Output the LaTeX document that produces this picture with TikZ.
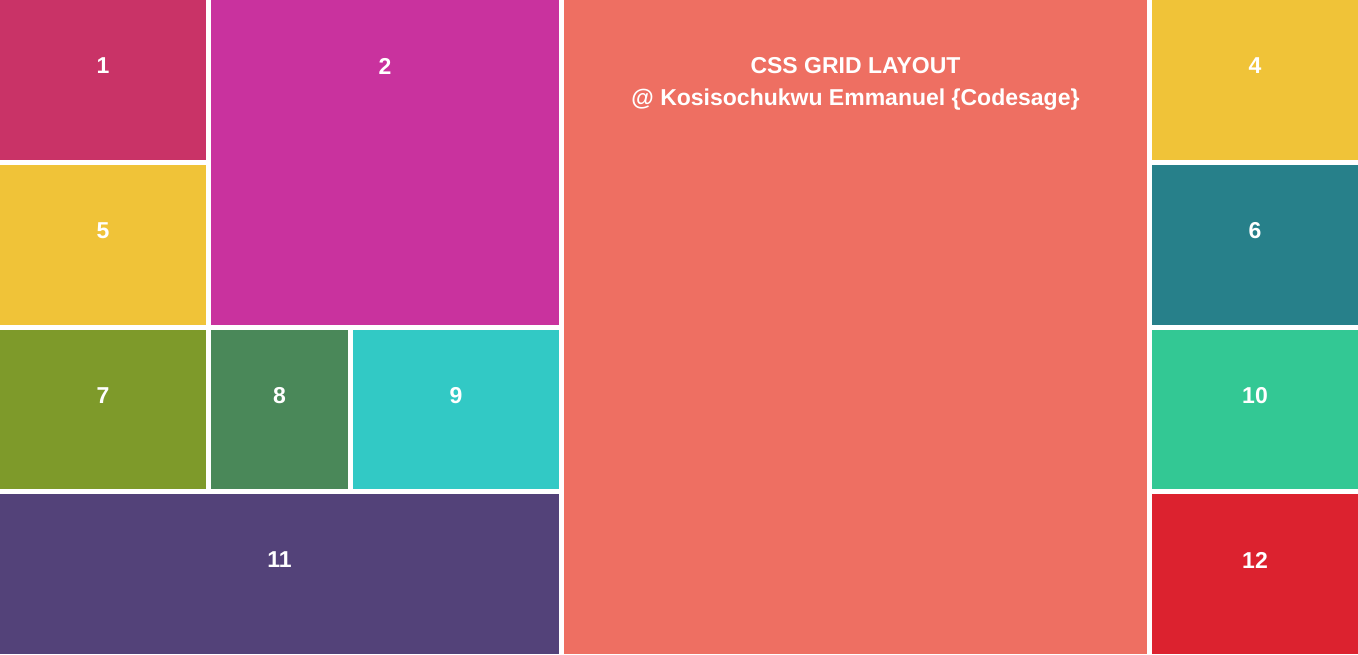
\documentclass[tikz,border=0pt]{standalone}
\usepackage{fontspec}
\setmainfont{Liberation Sans}
\definecolor{c1}{RGB}{201,51,103}
\definecolor{c2}{RGB}{201,50,158}
\definecolor{c3}{RGB}{238,111,98}
\definecolor{c4}{RGB}{240,195,56}
\definecolor{c6}{RGB}{39,128,138}
\definecolor{c7}{RGB}{126,154,42}
\definecolor{c8}{RGB}{74,136,89}
\definecolor{c9}{RGB}{50,201,197}
\definecolor{c10}{RGB}{51,200,148}
\definecolor{c11}{RGB}{83,66,121}
\definecolor{c12}{RGB}{220,34,47}
\begin{document}
\begin{tikzpicture}[x=1pt,y=-1pt,
  cell/.style={draw=none,inner sep=0pt,outer sep=0pt,anchor=north west},
  lbl/.style={text=white,font=\fontsize{23}{28}\selectfont\bfseries,inner sep=0pt,yshift=-66pt}]
\fill[white] (0,0) rectangle (1358,654);
\useasboundingbox (0,0) rectangle (1358,654);
\node[cell,fill=c1,minimum width=206pt,minimum height=160pt] (b1) at (0,0) {};
\node[cell,fill=c2,minimum width=348pt,minimum height=325pt] (b2) at (211,0) {};
\node[cell,fill=c3,minimum width=583pt,minimum height=654pt] (b3) at (564,0) {};
\node[cell,fill=c4,minimum width=206pt,minimum height=160pt] (b4) at (1152,0) {};
\node[cell,fill=c4,minimum width=206pt,minimum height=160pt] (b5) at (0,165) {};
\node[cell,fill=c6,minimum width=206pt,minimum height=160pt] (b6) at (1152,165) {};
\node[cell,fill=c7,minimum width=206pt,minimum height=159pt] (b7) at (0,330) {};
\node[cell,fill=c8,minimum width=137pt,minimum height=159pt] (b8) at (211,330) {};
\node[cell,fill=c9,minimum width=206pt,minimum height=159pt] (b9) at (353,330) {};
\node[cell,fill=c10,minimum width=206pt,minimum height=159pt] (b10) at (1152,330) {};
\node[cell,fill=c11,minimum width=559pt,minimum height=160pt] (b11) at (0,494) {};
\node[cell,fill=c12,minimum width=206pt,minimum height=160pt] (b12) at (1152,494) {};
\node[lbl] (t1) at (b1.north) {1};
\node[lbl] (t2) at (b2.north) {2};
\node[lbl] (t4) at (b4.north) {4};
\node[lbl] (t5) at (b5.north) {5};
\node[lbl] (t6) at (b6.north) {6};
\node[lbl] (t7) at (b7.north) {7};
\node[lbl] (t8) at (b8.north) {8};
\node[lbl] (t9) at (b9.north) {9};
\node[lbl] (t10) at (b10.north) {10};
\node[lbl] (t11) at (b11.north) {11};
\node[lbl] (t12) at (b12.north) {12};
\node[text=white,font=\fontsize{23}{32}\selectfont\bfseries,inner sep=0pt,align=center,anchor=north] (t3) at ([yshift=-57pt]b3.north) {CSS GRID LAYOUT\\@ Kosisochukwu Emmanuel \{Codesage\}};
\end{tikzpicture}
\end{document}
